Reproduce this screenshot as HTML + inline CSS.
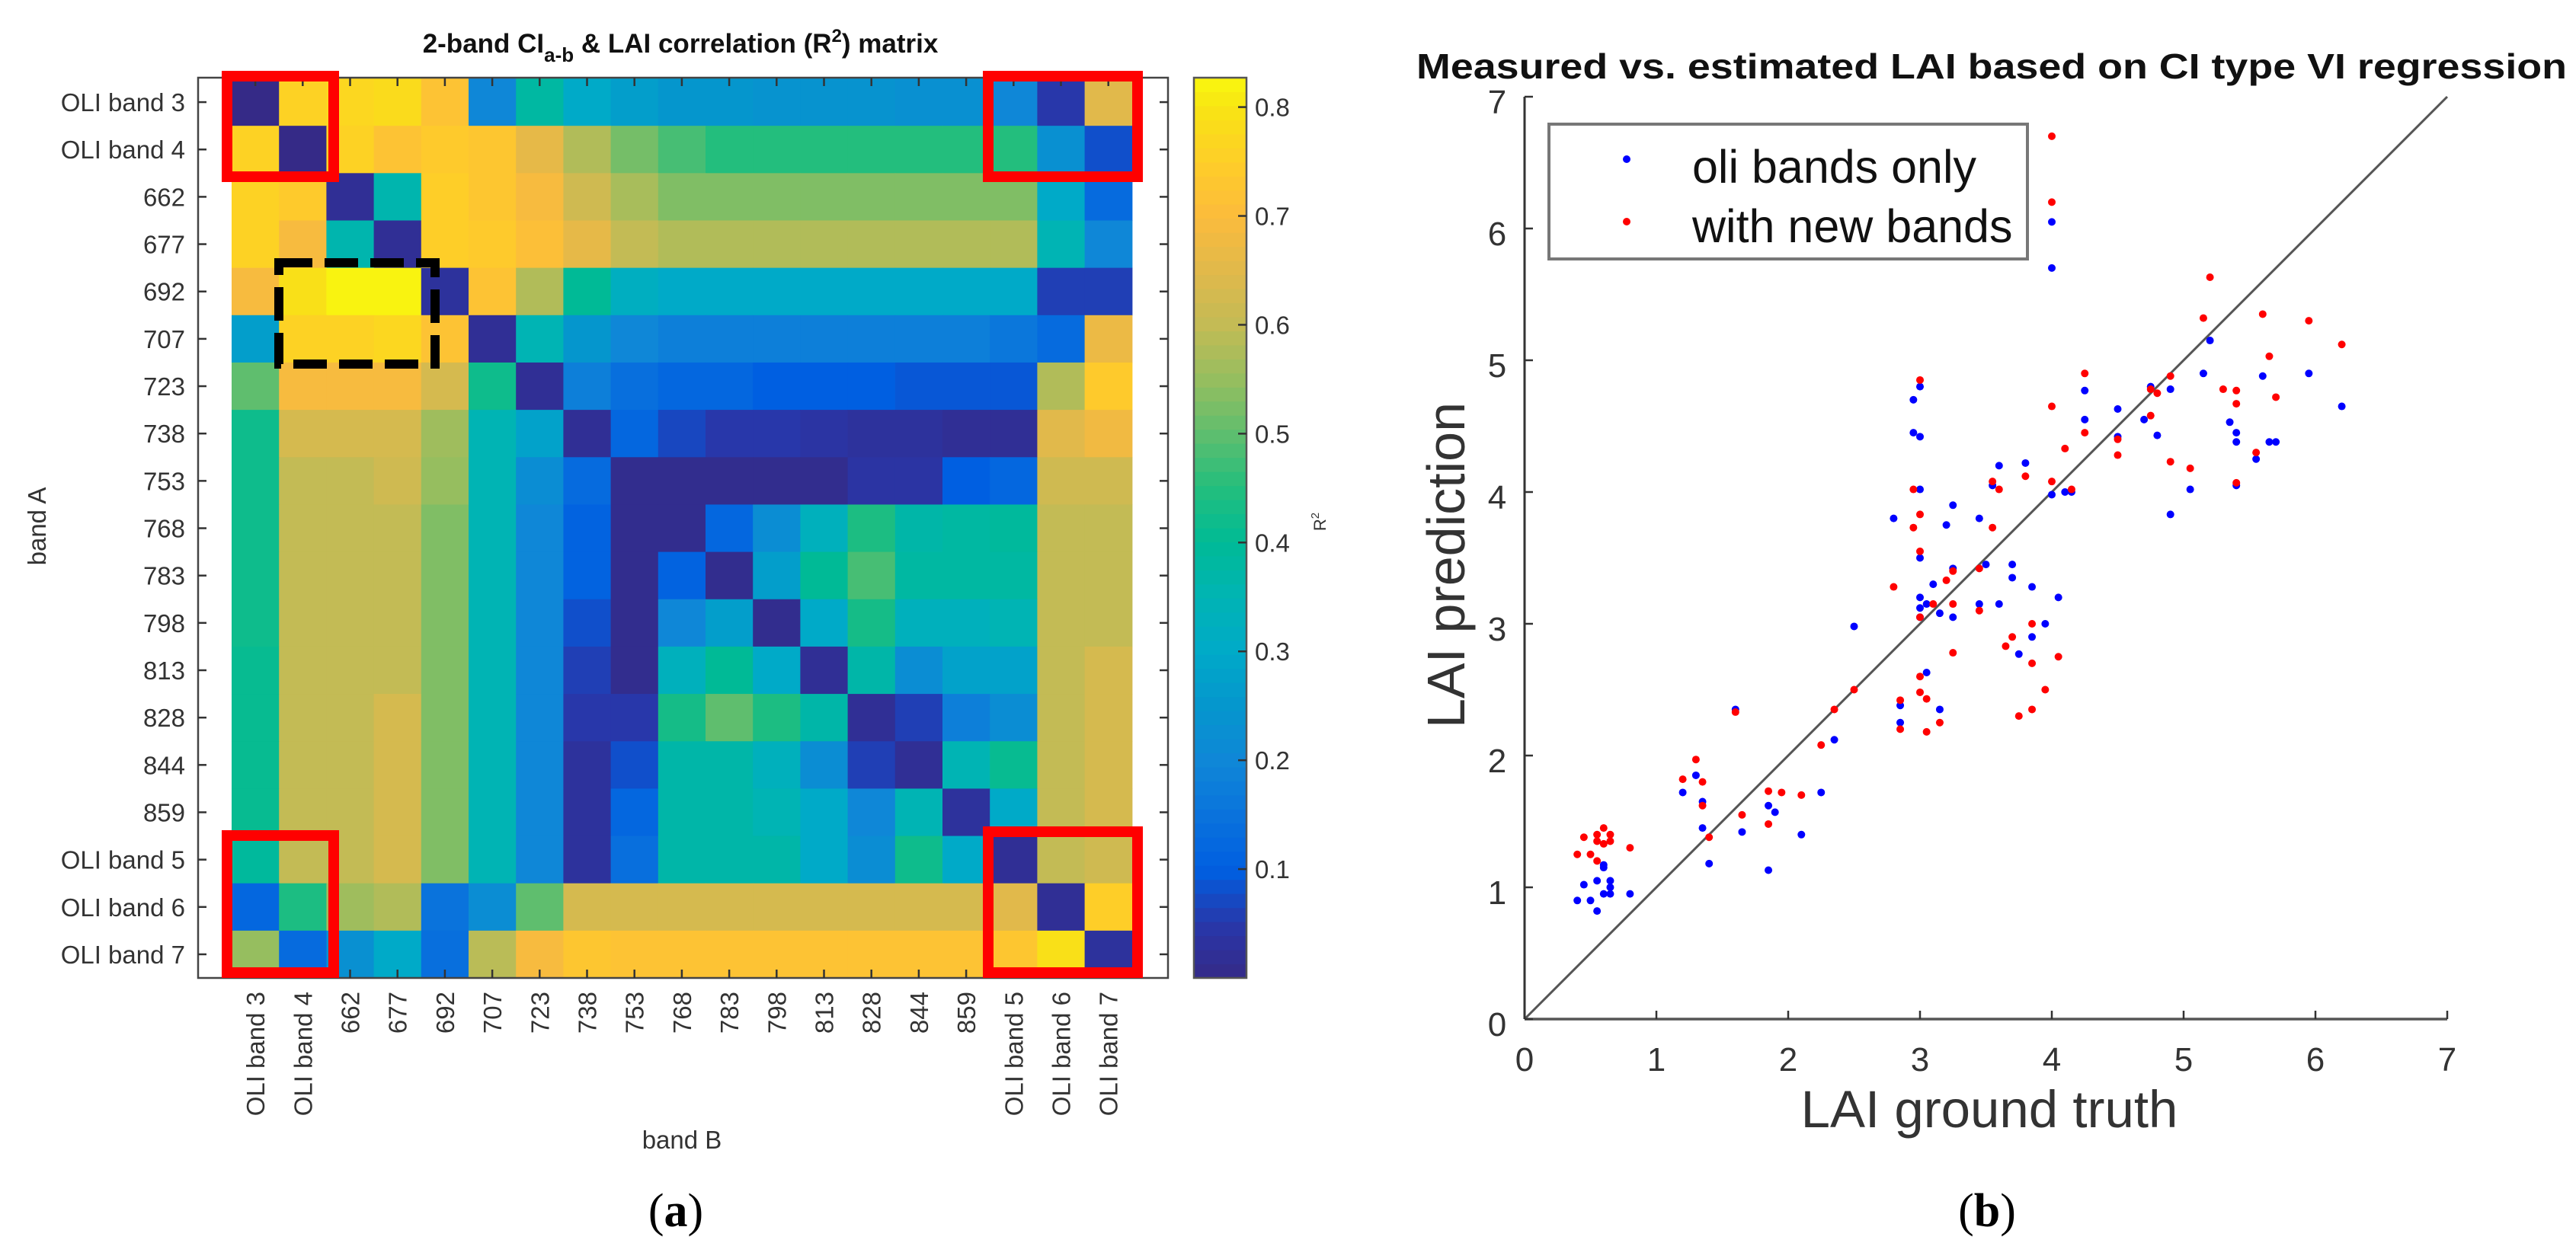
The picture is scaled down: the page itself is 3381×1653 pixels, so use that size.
<!DOCTYPE html>
<html><head><meta charset="utf-8"><style>
html,body{margin:0;padding:0;background:#fff;}
svg{display:block;font-family:"Liberation Sans",sans-serif;}
</style></head><body>
<svg id="fig" width="3381" height="1653" viewBox="0 0 3381 1653" xmlns="http://www.w3.org/2000/svg">
<g id="heat"></g>
<g id="scat"></g>
</svg>
<script>
const bandLabels = ["OLI band 3","OLI band 4","662","677","692","707","723","738","753","768","783","798","813","828","844","859","OLI band 5","OLI band 6","OLI band 7"];
const r2Matrix = [
[0.00,0.76,0.77,0.78,0.72,0.20,0.38,0.30,0.27,0.25,0.25,0.24,0.24,0.24,0.23,0.23,0.20,0.05,0.65],
[0.76,0.00,0.76,0.72,0.74,0.73,0.66,0.58,0.52,0.48,0.45,0.45,0.45,0.45,0.45,0.45,0.45,0.23,0.08],
[0.76,0.74,0.02,0.36,0.75,0.73,0.69,0.62,0.57,0.53,0.53,0.53,0.53,0.53,0.53,0.53,0.53,0.30,0.13],
[0.76,0.69,0.36,0.02,0.75,0.74,0.71,0.66,0.60,0.58,0.58,0.58,0.58,0.58,0.58,0.58,0.58,0.35,0.20],
[0.69,0.79,0.82,0.82,0.03,0.72,0.58,0.40,0.32,0.30,0.30,0.30,0.30,0.30,0.30,0.30,0.30,0.06,0.06],
[0.27,0.76,0.76,0.77,0.72,0.02,0.35,0.25,0.20,0.18,0.18,0.18,0.18,0.18,0.18,0.18,0.16,0.13,0.67],
[0.50,0.69,0.69,0.69,0.63,0.42,0.02,0.18,0.14,0.12,0.12,0.10,0.10,0.10,0.09,0.09,0.09,0.58,0.74],
[0.42,0.63,0.63,0.63,0.56,0.35,0.28,0.02,0.12,0.07,0.05,0.05,0.04,0.03,0.03,0.02,0.02,0.65,0.68],
[0.42,0.60,0.60,0.62,0.55,0.35,0.22,0.13,0.01,0.01,0.01,0.01,0.01,0.04,0.04,0.10,0.12,0.62,0.62],
[0.42,0.60,0.60,0.60,0.53,0.35,0.20,0.11,0.01,0.01,0.12,0.22,0.33,0.44,0.37,0.38,0.39,0.60,0.60],
[0.42,0.60,0.60,0.60,0.53,0.35,0.20,0.11,0.01,0.11,0.01,0.27,0.40,0.48,0.38,0.38,0.38,0.60,0.60],
[0.42,0.60,0.60,0.60,0.53,0.35,0.20,0.08,0.01,0.20,0.27,0.01,0.30,0.43,0.33,0.33,0.35,0.60,0.60],
[0.41,0.60,0.60,0.60,0.53,0.35,0.20,0.06,0.01,0.33,0.40,0.30,0.02,0.37,0.22,0.28,0.28,0.60,0.63],
[0.41,0.60,0.60,0.63,0.53,0.35,0.20,0.05,0.05,0.43,0.50,0.44,0.37,0.02,0.06,0.18,0.22,0.60,0.63],
[0.41,0.60,0.60,0.63,0.53,0.35,0.20,0.03,0.08,0.37,0.37,0.33,0.22,0.06,0.02,0.35,0.41,0.60,0.63],
[0.41,0.60,0.60,0.63,0.53,0.35,0.20,0.03,0.12,0.37,0.37,0.35,0.30,0.20,0.35,0.03,0.30,0.60,0.63],
[0.39,0.60,0.60,0.63,0.53,0.35,0.20,0.03,0.14,0.37,0.37,0.37,0.30,0.22,0.42,0.30,0.02,0.60,0.62],
[0.12,0.44,0.56,0.58,0.15,0.22,0.50,0.63,0.63,0.63,0.63,0.63,0.63,0.63,0.63,0.63,0.65,0.02,0.75],
[0.55,0.13,0.23,0.30,0.14,0.59,0.69,0.73,0.72,0.72,0.72,0.72,0.72,0.72,0.72,0.72,0.73,0.79,0.03]
];
const cbarTicks = [0.1,0.2,0.3,0.4,0.5,0.6,0.7,0.8];
const oliX = [0.4,0.45,0.5,0.55,0.55,0.6,0.6,0.6,0.65,0.65,0.65,0.8,1.2,1.3,1.35,1.35,1.4,1.6,1.65,1.85,1.85,1.9,2.1,2.25,2.35,2.5,2.8,2.85,2.85,2.95,2.95,3.0,3.0,3.0,3.0,3.0,3.0,3.0,3.05,3.05,3.1,3.15,3.15,3.2,3.25,3.25,3.25,3.45,3.45,3.5,3.55,3.6,3.6,3.7,3.7,3.75,3.8,3.85,3.85,3.95,4.0,4.0,4.0,4.05,4.1,4.15,4.25,4.25,4.5,4.5,4.7,4.75,4.8,4.9,4.9,5.05,5.15,5.2,5.35,5.4,5.4,5.4,5.55,5.6,5.65,5.7,5.95,6.2];
const oliY = [0.9,1.02,0.9,1.05,0.82,1.15,0.95,1.17,1.0,0.95,1.05,0.95,1.72,1.85,1.65,1.45,1.18,2.35,1.42,1.13,1.62,1.57,1.4,1.72,2.12,2.98,3.8,2.38,2.25,4.7,4.45,4.42,4.8,4.02,3.5,3.2,3.12,3.05,2.63,3.15,3.3,2.35,3.08,3.75,3.9,3.42,3.05,3.8,3.15,3.45,4.05,4.2,3.15,3.45,3.35,2.77,4.22,2.9,3.28,3.0,6.05,5.7,3.98,3.2,4.0,4.0,4.55,4.77,4.63,4.42,4.55,4.8,4.43,3.83,4.78,4.02,4.9,5.15,4.53,4.05,4.38,4.45,4.25,4.88,4.38,4.38,4.9,4.65];
const newX = [0.4,0.45,0.5,0.55,0.55,0.6,0.6,0.65,0.65,0.55,0.8,1.2,1.3,1.35,1.35,1.4,1.6,1.65,1.85,1.85,1.95,2.1,2.25,2.35,2.5,2.8,2.85,2.85,2.95,2.95,3.0,3.0,3.0,3.0,3.0,3.0,3.05,3.05,3.1,3.15,3.2,3.25,3.25,3.25,3.45,3.45,3.55,3.55,3.6,3.65,3.7,3.75,3.8,3.85,3.85,3.85,3.95,4.0,4.0,4.0,4.0,4.05,4.1,4.15,4.25,4.25,4.5,4.5,4.75,4.75,4.8,4.9,4.9,5.05,5.15,5.2,5.3,5.4,5.4,5.4,5.55,5.6,5.65,5.7,5.95,6.2];
const newY = [1.25,1.38,1.25,1.35,1.2,1.45,1.33,1.4,1.35,1.4,1.3,1.82,1.97,1.8,1.62,1.38,2.33,1.55,1.48,1.73,1.72,1.7,2.08,2.35,2.5,3.28,2.2,2.42,4.02,3.73,4.85,3.55,3.83,3.05,2.48,2.6,2.43,2.18,3.15,2.25,3.33,3.4,2.78,3.15,3.42,3.1,3.73,4.08,4.02,2.83,2.9,2.3,4.12,2.35,2.7,3.0,2.5,6.7,6.2,4.65,4.08,2.75,4.33,4.02,4.45,4.9,4.28,4.4,4.78,4.58,4.75,4.88,4.23,4.18,5.32,5.63,4.78,4.77,4.07,4.67,4.3,5.35,5.03,4.72,5.3,5.12];
const scatTicks = [0,1,2,3,4,5,6,7];

const NS = "http://www.w3.org/2000/svg";
function mk(parent, tag, attrs, text){
  const e = document.createElementNS(NS, tag);
  for (const k in attrs) e.setAttribute(k, attrs[k]);
  if (text !== undefined) e.textContent = text;
  parent.appendChild(e);
  return e;
}
const cmapV = [0.0,0.05,0.1,0.15,0.2,0.25,0.3,0.35,0.4,0.45,0.5,0.55,0.6,0.65,0.7,0.75,0.8,0.83];
const cmapC = [[53,42,135],[40,55,170],[0,95,225],[10,115,220],[15,135,215],[5,150,205],[0,170,200],[0,180,180],[0,186,150],[35,190,125],[95,190,110],[150,190,95],[195,187,85],[225,185,75],[252,187,60],[254,206,40],[248,228,20],[249,250,14]];
function cmap(v){
  if (v <= cmapV[0]) return "rgb(" + cmapC[0].join(",") + ")";
  for (let i = 0; i < cmapV.length - 1; i++){
    if (v <= cmapV[i+1]){
      const f = (v - cmapV[i])/(cmapV[i+1] - cmapV[i]);
      const a = cmapC[i], b = cmapC[i+1];
      return "rgb(" + [0,1,2].map(k => Math.round(a[k] + (b[k]-a[k])*f)).join(",") + ")";
    }
  }
  return "rgb(" + cmapC[cmapC.length-1].join(",") + ")";
}
// ---------- heatmap ----------
const H = document.getElementById("heat");
const cx0 = 304, cw = 62.2, cy0 = 103, ch = 62.16, N = bandLabels.length;
const vmin = 0.0, vmax = 0.827;
const colX = j => cx0 + j*cw;
const rowY = i => cy0 + i*ch;
const cbY = v => 1284 - (v - vmin)/(vmax - vmin)*(1284 - 102);

r2Matrix.forEach((row, i) => row.forEach((v, j) => {
  const r = mk(H, "rect", {x: colX(j), y: rowY(i), width: cw+0.6, height: ch+0.6, fill: cmap(v)});
  
  
}));
const box = mk(H, "rect", {x: 260, y: 102, width: 1273, height: 1182, fill: "none", stroke: "#444", "stroke-width": 2.5});


for (let i = 0; i < N; i++){
  const yc = rowY(i) + ch/2, xc = colX(i) + cw/2;
  mk(H, "line", {x1: 260, x2: 271, y1: yc, y2: yc, stroke: "#333", "stroke-width": 2.5});
  mk(H, "line", {x1: 1522, x2: 1533, y1: yc, y2: yc, stroke: "#333", "stroke-width": 2.5});
  mk(H, "line", {x1: xc, x2: xc, y1: 102, y2: 113, stroke: "#333", "stroke-width": 2.5});
  mk(H, "line", {x1: xc, x2: xc, y1: 1273, y2: 1284, stroke: "#333", "stroke-width": 2.5});
  const rl = mk(H, "text", {x: 243, y: yc + 12, "text-anchor": "end", "font-size": 33, fill: "#333"}, bandLabels[i]);
  
  
  const cl = mk(H, "text", {x: 0, y: 0, "text-anchor": "end", "font-size": 33, fill: "#333", transform: "translate(" + (xc + 12) + ",1302) rotate(-90)"}, bandLabels[i]);
  
  
}
const steps = 64;
for (let k = 0; k < steps; k++){
  const v0 = vmin + (vmax - vmin)*k/steps, v1 = vmin + (vmax - vmin)*(k+1)/steps;
  mk(H, "rect", {x: 1567, y: cbY(v1), width: 69, height: cbY(v0) - cbY(v1) + 0.5, fill: cmap((v0 + v1)/2)});
}
const cbb = mk(H, "rect", {x: 1567, y: 102, width: 69, height: 1182, fill: "none", stroke: "#555", "stroke-width": 2.5});


cbarTicks.forEach(t => {
  const y = cbY(t);
  mk(H, "line", {x1: 1625, x2: 1636, y1: y, y2: y, stroke: "#333", "stroke-width": 2.5});
  const tl = mk(H, "text", {x: 1647, y: y + 12, "font-size": 33, fill: "#333"}, String(t));
  
  
});
[[298,100,438,232],[1297,100,1493,232],[298,1097,438,1277],[1297,1092,1493,1277]].forEach(b => {
  const r = mk(H, "rect", {x: b[0], y: b[1], width: b[2]-b[0], height: b[3]-b[1], fill: "none", stroke: "#ff0000", "stroke-width": 14});
  
  
});
const dash = mk(H, "rect", {x: 366, y: 345, width: 205, height: 133, fill: "none", stroke: "#000", "stroke-width": 12, "stroke-dasharray": "44 16"});


const t1 = mk(H, "text", {x: 893, y: 69, "text-anchor": "middle", "font-size": 35, "font-weight": "bold", fill: "#111"});


t1.innerHTML = '2-band CI<tspan font-size="26" dy="12">a-b</tspan><tspan dy="-12"> &amp; LAI correlation (R</tspan><tspan font-size="24" dy="-14">2</tspan><tspan dy="14">) matrix</tspan>';
const ya = mk(H, "text", {x: 0, y: 0, "text-anchor": "middle", "font-size": 33, fill: "#333", transform: "translate(60,691) rotate(-90)"}, "band A");


const xa = mk(H, "text", {x: 895, y: 1508, "text-anchor": "middle", "font-size": 33, fill: "#333"}, "band B");


const cbl = mk(H, "text", {x: 0, y: 0, "text-anchor": "middle", "font-size": 22, fill: "#333", transform: "translate(1740,685) rotate(-90)"});


cbl.innerHTML = 'R<tspan font-size="15" dy="-9">2</tspan>';
const pa = mk(H, "text", {x: 887, y: 1610, "text-anchor": "middle", "font-size": 62, "font-family": "Liberation Serif, serif", fill: "#000"});


pa.innerHTML = '(<tspan font-weight="bold">a</tspan>)';

// ---------- scatter ----------
const S = document.getElementById("scat");
const X0 = 2001, Y0 = 1338, U = 173;
const sx = v => X0 + v*U;
const sy = v => Y0 - v*U;
const diag = mk(S, "line", {x1: sx(0), y1: sy(0), x2: sx(7), y2: sy(7), stroke: "#555", "stroke-width": 3});


const xax = mk(S, "line", {x1: X0, x2: sx(7), y1: Y0, y2: Y0, stroke: "#555", "stroke-width": 3.5});


const yax = mk(S, "line", {x1: X0, x2: X0, y1: Y0, y2: sy(7), stroke: "#333", "stroke-width": 3});


scatTicks.forEach(t => {
  mk(S, "line", {x1: sx(t), x2: sx(t), y1: Y0, y2: Y0 - 11, stroke: "#333", "stroke-width": 2.5});
  mk(S, "line", {x1: X0, x2: X0 + 11, y1: sy(t), y2: sy(t), stroke: "#333", "stroke-width": 2.5});
  const xl = mk(S, "text", {x: sx(t), y: Y0 + 68, "text-anchor": "middle", "font-size": 44, fill: "#333"}, String(t));
  
  
  const yl = mk(S, "text", {x: X0 - 36, y: sy(t) + 22, "text-anchor": "middle", "font-size": 44, fill: "#333"}, String(t));
  
  
});
oliX.forEach((x, i) => {
  const c = mk(S, "circle", {cx: sx(x), cy: sy(oliY[i]), r: 5, fill: "#0000ff"});
  
  
});
newX.forEach((x, i) => {
  const c = mk(S, "circle", {cx: sx(x), cy: sy(newY[i]), r: 5, fill: "#ff0000"});
  
  
});
const lg = mk(S, "rect", {x: 2033, y: 163, width: 628, height: 177, fill: "#fff", stroke: "#777", "stroke-width": 4});


const ld1 = mk(S, "circle", {cx: 2135, cy: 209, r: 5, fill: "#0000ff"});


const ld2 = mk(S, "circle", {cx: 2135, cy: 291, r: 5, fill: "#ff0000"});


const le1 = mk(S, "text", {x: 2221, y: 240, "font-size": 61, fill: "#111"}, "oli bands only");


const le2 = mk(S, "text", {x: 2221, y: 318, "font-size": 61, fill: "#111"}, "with new bands");


const t2 = mk(S, "text", {x: 2614, y: 103, "text-anchor": "middle", "font-size": 46, "font-weight": "bold", fill: "#111", textLength: 1510, lengthAdjust: "spacingAndGlyphs"}, "Measured vs. estimated LAI based on CI type VI regression");


const sxl = mk(S, "text", {x: 2611, y: 1480, "text-anchor": "middle", "font-size": 69, fill: "#333"}, "LAI ground truth");


const syl = mk(S, "text", {x: 0, y: 0, "text-anchor": "middle", "font-size": 70, fill: "#333", transform: "translate(1922,742) rotate(-90)"}, "LAI prediction");


const pb = mk(S, "text", {x: 2608, y: 1610, "text-anchor": "middle", "font-size": 62, "font-family": "Liberation Serif, serif", fill: "#000"});


pb.innerHTML = '(<tspan font-weight="bold">b</tspan>)';
</script>
</body></html>
